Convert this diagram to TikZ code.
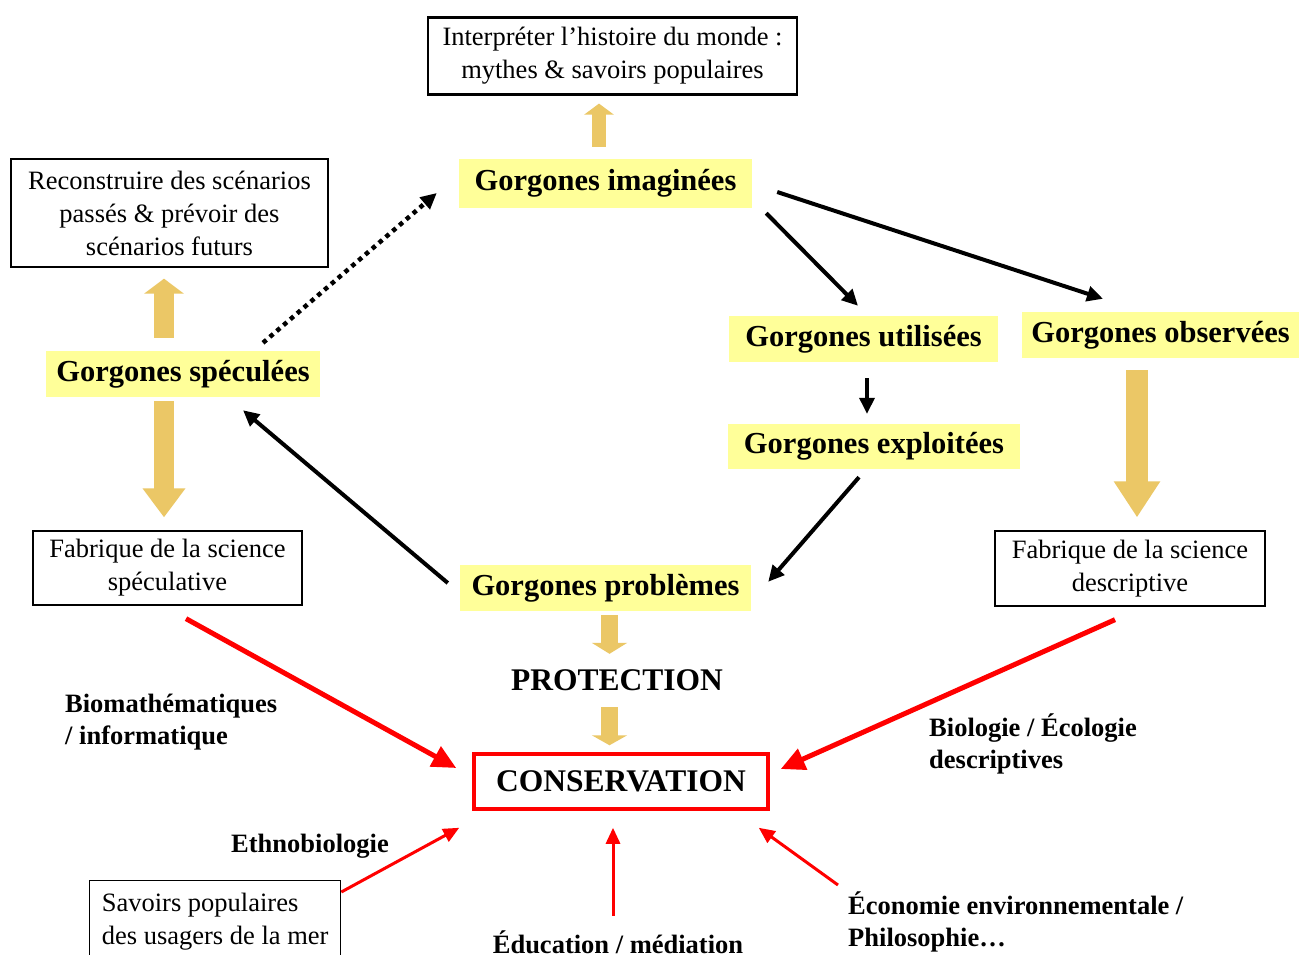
\documentclass[tikz,border=0pt]{standalone}
\usepackage{fontspec}
\setmainfont{Liberation Serif}
\usetikzlibrary{arrows.meta}
\definecolor{gorgYellow}{HTML}{FFFF99}
\definecolor{blockGold}{HTML}{EBC766}
\definecolor{consRed}{HTML}{FF0000}

\begin{document}
\begin{tikzpicture}[x=1pt, y=-1pt,
    gorg/.style={fill=gorgYellow, inner sep=0pt, minimum height=46pt,
                 font=\bfseries\fontsize{30.5}{34}\selectfont},
    sbox/.style={draw, line width=1.3pt, inner sep=0pt, align=center,
                 font=\fontsize{26.5}{33}\selectfont},
    flab/.style={inner sep=0pt, align=left,
                 font=\bfseries\fontsize{26.5}{32}\selectfont},
    gold/.style n args={3}{draw=blockGold, line width=#1,
                 -{Triangle[length=#2, width=#3]}},
    blk/.style={-{Triangle[length=16pt, width=15pt]}, line width=4pt},
    redarr/.style={consRed, -{Triangle[length=24pt, width=22pt]}, line width=5pt},
    redthin/.style={consRed, -{Triangle[length=16pt, width=14pt]}, line width=3pt},
  ]
    \path[use as bounding box, fill=white] (0,0) rectangle (1300,954);

    % boxes and labels
    \node[sbox, line width=2.2pt, minimum width=369pt, minimum height=77pt] (monde)
      at (612.5,56) {Interpréter l’histoire du monde :\\mythes \& savoirs populaires};
    \node[gorg, minimum width=293pt, minimum height=49pt] (imag)
      at (605.5,183.5) {Gorgones imaginées};
    \node[sbox, minimum width=317pt, minimum height=108pt] (scen)
      at (169.5,213) {Reconstruire des scénarios\\passés \& prévoir des\\scénarios futurs};
    \node[gorg, minimum width=274pt] (spec) at (183,374) {Gorgones spéculées};
    \node[sbox, minimum width=269pt, minimum height=74pt] (fspec)
      at (167.5,568) {Fabrique de la science\\spéculative};
    \node[gorg, minimum width=269pt] (util) at (863.5,339) {Gorgones utilisées};
    \node[gorg, minimum width=277pt] (obs) at (1160.5,335) {Gorgones observées};
    \node[gorg, minimum width=292pt, minimum height=45pt] (expl)
      at (874,446.5) {Gorgones exploitées};
    \node[gorg, minimum width=291pt] (prob) at (605.5,588) {Gorgones problèmes};
    \node[sbox, minimum width=270pt, minimum height=75pt] (fdesc)
      at (1130,568.5) {Fabrique de la science\\descriptive};
    \node[inner sep=0pt, minimum height=40pt,
          font=\bfseries\fontsize{31.5}{34}\selectfont] (prot) at (617,680) {PROTECTION};
    \node[draw=consRed, line width=3.5pt, inner sep=0pt, minimum width=294pt,
          minimum height=55pt, font=\bfseries\fontsize{31.5}{34}\selectfont] (cons)
      at (621,781.5) {CONSERVATION};

    \node[flab, anchor=west] (bmath) at (65,722) {Biomathématiques\\/ informatique};
    \node[flab, anchor=west] (bioeco) at (929,743.5) {Biologie / Écologie\\descriptives};
    \node[flab] (ethno) at (310,846) {Ethnobiologie};
    \node[sbox, anchor=north west, align=left, minimum width=251pt,
          inner ysep=12pt] (usagers) at (89,880) {Savoirs populaires\\des usagers de la mer};
    \node[flab, minimum height=40pt] (educ) at (618,942) {Éducation / médiation};
    \node[flab, anchor=west] (econ) at (848,922) {Économie environnementale /\\Philosophie…};

    % gold block arrows
    \draw[gold={14pt}{11pt}{29pt}] ([xshift=-6.5pt,yshift=12pt]imag.north)
      -- ([xshift=-13.5pt,yshift=-8pt]monde.south);
    \draw[gold={20pt}{15pt}{39pt}] ([xshift=-19pt,yshift=13pt]spec.north)
      -- ([xshift=-5.5pt,yshift=-11pt]scen.south);
    \draw[gold={20pt}{29pt}{41pt}] ([xshift=-19pt,yshift=-4pt]spec.south)
      -- ([xshift=-3.5pt,yshift=13pt]fspec.north);
    \draw[gold={22pt}{36pt}{44pt}] ([xshift=-23.5pt,yshift=-12pt]obs.south)
      -- ([xshift=7pt,yshift=13pt]fdesc.north);
    \draw[gold={17pt}{11pt}{35pt}] ([xshift=4pt,yshift=-4pt]prob.south)
      -- ([xshift=-7.5pt,yshift=6pt]prot.north);
    \draw[gold={17pt}{10pt}{35pt}] ([xshift=-7.5pt,yshift=-7pt]prot.south)
      -- ([xshift=-11.5pt,yshift=7pt]cons.north);

    % black arrows
    \draw[blk] ([xshift=14pt,yshift=-5pt]imag.south east)
      -- ([xshift=-5.5pt,yshift=10pt]util.north);
    \draw[blk] ([xshift=25pt,yshift=-8.5pt]imag.east)
      -- ([xshift=-57.5pt,yshift=13pt]obs.north);
    \draw[blk, line width=3.5pt] ([xshift=3.5pt,yshift=-16pt]util.south)
      -- ([xshift=-7pt,yshift=10pt]expl.north);
    \draw[blk] ([xshift=-15pt,yshift=-8pt]expl.south)
      -- ([xshift=17pt,yshift=-17pt]prob.north east);
    \draw[blk] ([xshift=-12pt,yshift=5pt]prob.west)
      -- ([xshift=60pt,yshift=-13pt]spec.south);
    \draw[blk, line width=4.5pt, dash pattern=on 4.5pt off 4.5pt]
      ([xshift=80pt,yshift=8pt]spec.north) -- ([xshift=-22pt,yshift=-9.5pt]imag.west);

    % red arrows
    \draw[redarr] ([xshift=18.5pt,yshift=-13pt]fspec.south)
      -- ([xshift=-16pt,yshift=13.5pt]cons.west);
    \draw[redarr] ([xshift=-15pt,yshift=-13pt]fdesc.south)
      -- ([xshift=11pt,yshift=12.5pt]cons.east);
    \draw[redthin] ([yshift=-12pt]usagers.north east)
      -- ([xshift=-13pt,yshift=-17pt]cons.south west);
    \draw[redthin] ([xshift=-5pt,yshift=6pt]educ.north)
      -- ([xshift=-8pt,yshift=-17pt]cons.south);
    \draw[redthin] ([xshift=-10pt,yshift=37pt]econ.west)
      -- ([xshift=-11pt,yshift=-17pt]cons.south east);
\end{tikzpicture}
\end{document}
